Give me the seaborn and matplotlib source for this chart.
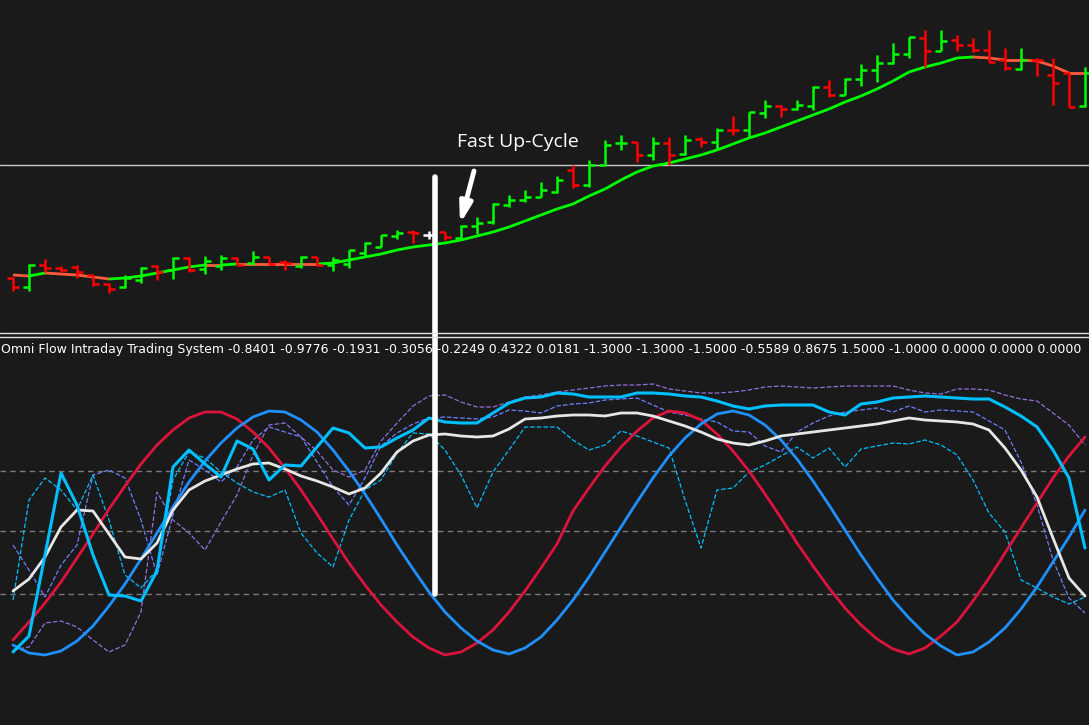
import numpy as np
import pandas as pd
import matplotlib
matplotlib.use("Agg")
import matplotlib.pyplot as plt
from matplotlib.patches import ConnectionPatch
import seaborn as sns

bar_open_px = [278, 287, 265, 268, 267, 275, 284, 287, 280, 266, 270, 258, 269, 266, 258, 263, 257, 262,
               266, 257, 265, 264, 253, 247, 236, 232, 235, 232, 238, 226, 222, 205, 200, 197, 192, 170,
               185, 165, 143, 142, 155, 143, 154, 139, 142, 130, 130, 113, 106, 109, 106, 87, 95, 79,
               70, 63, 54, 38, 51, 40, 45, 50, 60, 69, 60, 75, 73, 106]
bar_close_px = [287, 265, 268, 270, 272, 284, 289, 278, 268, 272, 258, 270, 261, 258, 265, 257, 264, 263,
                257, 265, 260, 250, 243, 235, 233, 233, 235, 237, 226, 223, 204, 200, 197, 190, 180, 185,
                165, 145, 143, 155, 143, 155, 140, 142, 130, 130, 112, 106, 109, 105, 87, 95, 79, 70,
                63, 54, 37, 51, 41, 45, 50, 62, 68, 60, 60, 83, 107, 73]
bar_high_px = [277, 264, 259, 266, 265, 276, 283, 275, 267, 265, 257, 257, 256, 255, 257, 251, 257, 260,
               256, 257, 257, 250, 242, 235, 230, 230, 231, 232, 225, 217, 203, 195, 190, 182, 176, 165,
               160, 140, 135, 142, 137, 137, 135, 137, 128, 116, 112, 100, 105, 100, 86, 80, 78, 64,
               55, 43, 37, 30, 30, 35, 38, 30, 48, 48, 58, 58, 73, 67]
bar_low_px = [291, 291, 272, 272, 278, 286, 293, 288, 283, 280, 279, 272, 274, 270, 265, 265, 264, 270,
              268, 266, 271, 268, 257, 247, 239, 243, 239, 240, 240, 234, 224, 207, 202, 197, 193, 188,
              187, 166, 150, 162, 160, 165, 155, 147, 150, 135, 138, 118, 117, 110, 110, 97, 95, 86,
              82, 64, 58, 67, 51, 51, 52, 62, 70, 70, 76, 105, 107, 107]
bar_color = ["r", "g", "r", "r", "r", "r", "r", "g", "g", "r", "g", "r", "g", "g", "r", "g", "r", "r",
             "g", "r", "g", "g", "g", "g", "g", "r", "w", "r", "g", "g", "g", "g", "g", "g", "g", "r",
             "g", "g", "g", "r", "g", "r", "g", "r", "g", "r", "g", "g", "r", "g", "g", "r", "g", "g",
             "g", "g", "g", "r", "g", "r", "r", "r", "r", "g", "r", "r", "r", "g"]
ma_px = [275, 276, 273, 274, 275, 277, 279, 278, 276, 273, 270, 267, 265, 265, 264, 264, 264, 264,
         264, 264, 263, 260, 257, 254, 250, 247, 245, 243, 240, 236, 232, 227, 221, 215, 209, 204,
         196, 189, 180, 172, 166, 163, 159, 155, 150, 144, 138, 133, 127, 121, 115, 109, 102, 96,
         89, 81, 72, 67, 63, 58, 57, 58, 60, 60, 61, 66, 73, 73]
level_px = 165

# --- oscillator lines (pixel rows, converted below) ---
red_wave = [640, 622, 603, 582, 558, 534, 509, 486, 464, 445, 430, 418, 412, 412, 419, 432, 448, 468,
            490, 514, 539, 563, 585, 605, 622, 637, 648, 655, 652, 643, 630, 612, 591, 568, 544, 511,
            488, 466, 447, 431, 418, 411, 413, 420, 434, 451, 471, 494, 518, 543, 566, 588, 608, 625,
            639, 649, 654, 648, 636, 622, 601, 578, 553, 528, 503, 478, 456, 437]
blue_wave = [645, 653, 655, 651, 641, 626, 606, 584, 559, 533, 507, 482, 461, 443, 428, 417, 411, 412,
             420, 432, 450, 471, 494, 519, 545, 569, 592, 612, 628, 641, 650, 654, 648, 637, 620, 600,
             577, 552, 527, 502, 478, 456, 438, 424, 414, 411, 415, 425, 440, 459, 481, 505, 530, 555,
             578, 600, 618, 634, 646, 655, 652, 642, 628, 609, 587, 562, 537, 510]
white_line = [591, 579, 557, 527, 510, 511, 534, 557, 559, 543, 510, 490, 481, 475, 469, 464, 463, 469,
              476, 481, 487, 494, 488, 473, 452, 441, 435, 434, 436, 437, 436, 429, 419, 418, 416, 415,
              415, 416, 413, 413, 416, 421, 426, 432, 439, 443, 445, 441, 436, 434, 432, 430, 428, 426,
              424, 421, 418, 420, 421, 422, 424, 430, 448, 470, 497, 538, 578, 596]
cyan_line = [652, 636, 555, 473, 505, 555, 595, 596, 601, 571, 467, 450, 464, 477, 441, 449, 480, 465,
             466, 447, 428, 433, 448, 447, 438, 430, 418, 422, 423, 423, 413, 403, 398, 397, 393, 394,
             397, 397, 397, 393, 393, 394, 396, 397, 401, 406, 409, 406, 405, 405, 405, 412, 415, 404,
             402, 398, 397, 396, 397, 398, 399, 399, 407, 416, 427, 450, 478, 548]
cyan_dash = [600, 500, 478, 490, 510, 475, 520, 575, 588, 570, 480, 452, 458, 472, 483, 492, 497, 490,
             533, 553, 567, 520, 490, 480, 453, 433, 434, 450, 475, 508, 472, 450, 427, 427, 427, 440,
             450, 445, 431, 436, 442, 448, 500, 548, 490, 488, 472, 465, 456, 447, 458, 448, 467, 449,
             446, 443, 444, 440, 445, 455, 480, 513, 532, 580, 588, 597, 604, 597]
slate_dash = [545, 570, 597, 565, 545, 475, 470, 478, 520, 575, 515, 460, 470, 482, 467, 440, 427, 432,
              437, 462, 487, 505, 478, 446, 433, 424, 418, 417, 418, 419, 417, 410, 411, 413, 406, 404,
              403, 400, 399, 398, 405, 412, 415, 419, 422, 431, 432, 446, 452, 432, 423, 416, 412, 410,
              408, 412, 406, 412, 410, 411, 412, 421, 430, 462, 505, 560, 598, 613]
purple_dash = [650, 647, 623, 621, 627, 640, 652, 645, 612, 492, 520, 533, 550, 522, 495, 455, 425, 423,
               437, 451, 470, 477, 470, 441, 423, 406, 396, 395, 402, 407, 407, 402, 397, 395, 392, 390,
               388, 386, 385, 385, 384, 389, 391, 393, 393, 392, 390, 387, 386, 387, 388, 387, 386, 386,
               386, 386, 390, 393, 394, 389, 389, 390, 395, 399, 401, 413, 425, 445]
osc_levels = [471, 531, 594]

title_text = ("Omni Flow Intraday Trading System -0.8401 -0.9776 -0.1931 -0.3056 -0.2249 0.4322 0.0181 "
              "-1.3000 -1.3000 -1.5000 -0.5589 0.8675 1.5000 -1.0000 0.0000 0.0000 0.0000")


def to_price(px):
    return 1.0850 + (333 - np.asarray(px, dtype=float)) * 0.00005


def to_osc(px):
    return (531 - np.asarray(px, dtype=float)) / 120.0


def to_bar(x):
    return (x - 13) / 16


BG = "#1a1a1a"
sns.set_theme(style="dark", rc={"axes.facecolor": BG, "figure.facecolor": BG})
plt.rcParams["font.family"] = ["DejaVu Sans"]

fig = plt.figure(figsize=(10.89, 7.25), dpi=100)
ax1 = fig.add_axes([0, 392 / 725, 1, 333 / 725])
ax2 = fig.add_axes([0, 0, 1, 388 / 725])
for ax in (ax1, ax2):
    ax.set_xlim(to_bar(0), to_bar(1089))
    ax.set_xticks([])
    ax.set_yticks([])
    ax.grid(False)
    for s in ax.spines.values():
        s.set_visible(False)
ax1.set_ylim(to_price(333), to_price(0))
ax2.set_ylim(to_osc(725), to_osc(337))

idx = np.arange(len(bar_open_px))
o, c = to_price(bar_open_px), to_price(bar_close_px)
h, l = to_price(bar_high_px), to_price(bar_low_px)
cmap = {"g": "#00ff00", "r": "#ff0000", "w": "#ffffff"}
cols = [cmap[k] for k in bar_color]

# level line
ax1.axhline(to_price(level_px), color="#c8c8c8", lw=1)

# moving average, coloured by slope
ma = to_price(ma_px)
for i in range(len(ma) - 1):
    col = "#00ff00" if ma[i + 1] > ma[i] else "#ff5a3c"
    ax1.plot(idx[i:i + 2], ma[i:i + 2], color=col, lw=2, solid_capstyle="butt")

ax1.vlines(idx, l, h, colors=cols, lw=1.8)
ax1.hlines(o, idx - 0.35, idx, colors=cols, lw=1.8)
ax1.hlines(c, idx, idx + 0.35, colors=cols, lw=1.8)

ax1.text(to_bar(518), to_price(142), "Fast Up-Cycle", color="white", fontsize=14,
         family=["Open Sans", "DejaVu Sans"], ha="center", va="center")
ax1.annotate("", xy=(to_bar(460), to_price(224)), xytext=(to_bar(474), to_price(171)),
             arrowprops=dict(arrowstyle="-|>,head_width=0.3,head_length=1.0", color="white", lw=3.5,
                             shrinkA=0, shrinkB=0))

# separator
fig.add_artist(plt.Line2D([0, 1], [392 / 725, 392 / 725], transform=fig.transFigure, color="#e0e0e0", lw=1))
fig.add_artist(plt.Line2D([0, 1], [388 / 725, 388 / 725], transform=fig.transFigure, color="#e0e0e0", lw=1))

# oscillator
for lv in osc_levels:
    ax2.axhline(to_osc(lv), color="#7a7a7a", lw=1, ls=(0, (4, 3)))

df = pd.DataFrame({"bar": idx, "red": to_osc(red_wave), "blue": to_osc(blue_wave),
                   "white": to_osc(white_line), "cyan": to_osc(cyan_line), "cyan_d": to_osc(cyan_dash),
                   "slate_d": to_osc(slate_dash), "purple_d": to_osc(purple_dash)})
sns.lineplot(data=df, x="bar", y="purple_d", ax=ax2, color="#9370db", lw=0.9, linestyle="--")
sns.lineplot(data=df, x="bar", y="slate_d", ax=ax2, color="#6f7fff", lw=0.9, linestyle="--")
sns.lineplot(data=df, x="bar", y="cyan_d", ax=ax2, color="#00bfff", lw=0.9, linestyle="--")
sns.lineplot(data=df, x="bar", y="red", ax=ax2, color="#dc143c", lw=2)
sns.lineplot(data=df, x="bar", y="blue", ax=ax2, color="#1e90ff", lw=2)
sns.lineplot(data=df, x="bar", y="white", ax=ax2, color="#e6e6e6", lw=2)
sns.lineplot(data=df, x="bar", y="cyan", ax=ax2, color="#00bfff", lw=2.2)
ax2.set_xlabel("")
ax2.set_ylabel("")
ax2.set_xticks([])
ax2.set_yticks([])

ax2.text(0.001, to_osc(350), title_text, color="white", fontsize=9, ha="left", va="center",
         transform=ax2.get_yaxis_transform(), family=["Tahoma", "DejaVu Sans"])

# white marker line across both panes
x_mark = to_bar(435)
con = ConnectionPatch(xyA=(x_mark, to_price(177)), coordsA=ax1.transData,
                      xyB=(x_mark, to_osc(594)), coordsB=ax2.transData, color="white", lw=4)
fig.add_artist(con)

fig.savefig("out.png", dpi=100, facecolor=BG)
